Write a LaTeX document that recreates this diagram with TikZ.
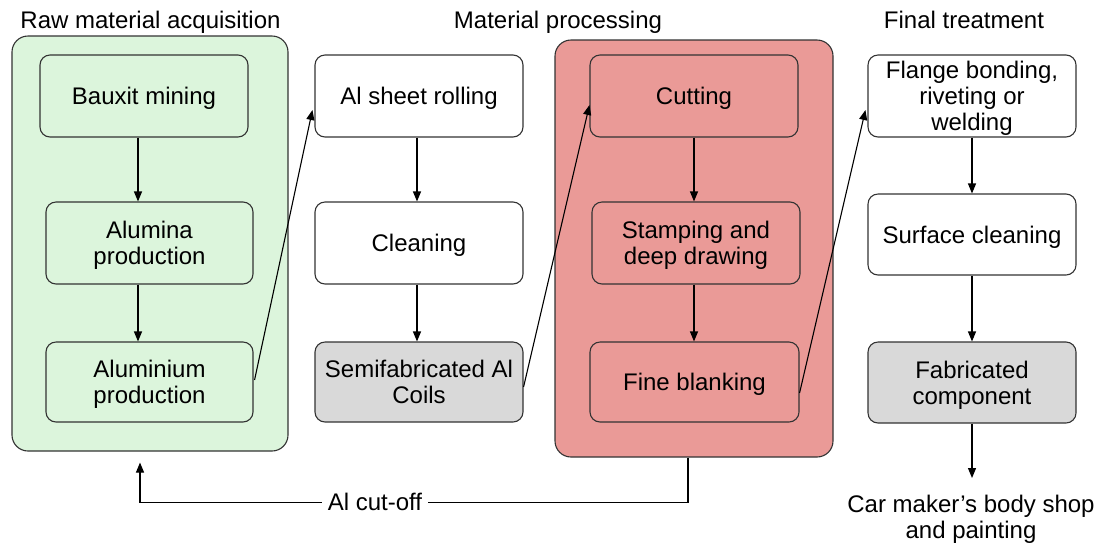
\documentclass[tikz,border=0pt]{standalone}
\usepackage{fontspec}
\setmainfont{Liberation Sans}
\usetikzlibrary{arrows.meta,calc}
\definecolor{rawfill}{HTML}{DCF5DC}
\definecolor{procfill}{HTML}{EA9A97}
\definecolor{stockfill}{HTML}{D9D9D9}
\definecolor{edgegray}{HTML}{333333}
\begin{document}
\begin{tikzpicture}[x=1pt,y=-1pt,
  font=\fontsize{24}{26}\selectfont,
  box/.style={draw=edgegray, line width=1.1pt, rounded corners=10pt, align=center,
              inner sep=0pt, text depth=0pt, minimum width=208pt, minimum height=82pt},
  group/.style={draw=edgegray, line width=1.1pt, rounded corners=16pt, inner sep=0pt},
  arr/.style={draw=black, line width=1.1pt, -{Triangle[length=10pt,width=8pt]}},
  title/.style={inner sep=0pt, anchor=base}]
\useasboundingbox (0,0) rectangle (1099,542);

% column headings
\node[title] (t1) at (150.5,28) {Raw material acquisition};
\node[title] (t2) at (558,28) {Material processing};
\node[title] (t3) at (964,28) {Final treatment};

% group containers
\node[group, fill=rawfill, minimum width=276pt, minimum height=415pt] (greenc) at (150,243.5) {};
\node[group, fill=procfill, minimum width=278pt, minimum height=417pt] (redc) at (694,248.5) {};

% raw material acquisition
\node[box, fill=rawfill] (bauxit) at (144,96) {Bauxit mining};
\node[box, fill=rawfill, minimum width=207pt] (alumina) at (149.5,243) {Alumina\\production};
\node[box, fill=rawfill, minimum width=207pt, minimum height=80pt] (alprod) at (149.5,382) {Aluminium\\production};

% sheet production
\node[box, fill=white] (sheet) at (419,96) {Al sheet rolling};
\node[box, fill=white] (clean) at (419,243) {Cleaning};
\node[box, fill=stockfill, minimum height=80pt] (semi) at (419,382) {Semifabricated Al\\Coils};

% material processing
\node[box, fill=procfill] (cutting) at (694,96) {Cutting};
\node[box, fill=procfill] (stamp) at (696,243) {Stamping and\\deep drawing};
\node[box, fill=procfill, minimum width=209pt, minimum height=80pt] (fine) at (694.5,382) {Fine blanking};

% final treatment
\node[box, fill=white] (flange) at (972,96) {Flange bonding,\\riveting or\\welding};
\node[box, fill=white, minimum height=81pt] (surface) at (972,234.5) {Surface cleaning};
\node[box, fill=stockfill, minimum height=81pt] (fab) at (972,382.5) {Fabricated\\component};
\node[align=center, inner sep=0pt, anchor=north] (car) at (971,494.5) {Car maker’s body shop\\and painting};

% flow inside the columns
\draw[arr] ($(bauxit.south)+(-6,0)$) -- ($(alumina.north)+(-11.5,0)$);
\draw[arr] ($(alumina.south)+(-11.5,0)$) -- ($(alprod.north)+(-11.5,0)$);
\draw[arr] ($(sheet.south)+(-2,0)$) -- ($(clean.north)+(-2,0)$);
\draw[arr] ($(clean.south)+(-2,0)$) -- ($(semi.north)+(-2,0)$);
\draw[arr] (cutting.south) -- ($(stamp.north)+(-2,0)$);
\draw[arr] ($(stamp.south)+(-2,0)$) -- ($(fine.north)+(-0.5,0)$);
\draw[arr] (flange.south) -- (surface.north);
\draw[arr] (surface.south) -- (fab.north);
\draw[arr] (fab.south) -- ($(car.north)+(1,-16.5)$);

% links between the columns
\draw[arr] ($(alprod.east)+(1,-2)$) -- ($(sheet.west)+(-2,14)$);
\draw[arr] ($(semi.east)+(0,5)$) -- ($(cutting.west)+(0,9)$);
\draw[arr] ($(fine.east)+(0,11)$) -- ($(flange.west)+(-2,14)$);

% scrap return loop
\draw[arr] ($(redc.south)+(-6,0)$) |- ($(greenc.south)+(-10,51)$) -- ($(greenc.south)+(-10,11)$);
\node[fill=white, inner xsep=6pt, inner ysep=2pt] (cutoff) at (375,502) {Al cut-off};
\end{tikzpicture}
\end{document}
